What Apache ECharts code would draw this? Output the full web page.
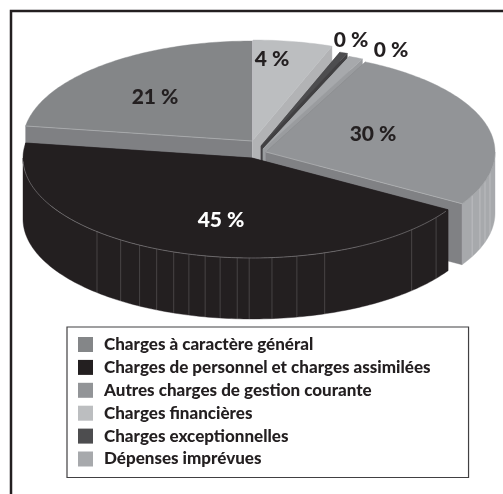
<!DOCTYPE html>
<html>
<head>
<meta charset="utf-8">
<style>
	html, body { margin: 0; padding: 0; background: #fff; }
	#chart { width: 503px; height: 494px; }
</style>
<script src="https://cdn.jsdelivr.net/npm/echarts@6/dist/echarts.min.js"></script>
</head>
<body>
<div id="chart"></div>
<script>
	// legend order
	const chargeNames = [
		'Charges à caractère général',
		'Charges de personnel et charges assimilées',
		'Autres charges de gestion courante',
		'Charges financières',
		'Charges exceptionnelles',
		'Dépenses imprévues'
	]
	// what the chart prints on the slices
	const percentLabels = ['21 %', '45 %', '30 %', '4 %', '0 %', '0 %']
	// share of the circle each slice really takes in the picture (read off its angles),
	// the perspective of the original makes these differ a bit from the printed numbers
	const sliceShares = [22.6, 43.75, 26.5, 5.6, 0.55, 1]
	const topColors = ['#848688', '#231f20', '#929497', '#bcbec0', '#4d4d4f', '#a7a9ac']
	const cutColors = ['#7f8083', '#231f20', '#808184', '#b2b3b5', '#414042', '#9a9c9f']
	const rimColors = ['#7f8083', '#231f20', '#a7a9ac', '#b2b3b5', '#414042', '#9a9c9f']
	const labelColors = ['#231f20', '#ffffff', '#231f20', '#231f20', '#231f20', '#231f20']

	// clockwise from 12 o'clock, the way the slices follow each other
	const clockOrder = [3, 4, 5, 2, 1, 0]
	// back to front
	const paintOrder = [0, 3, 4, 5, 2, 1]

	const radiusX = 229
	const radiusY = 100
	const depth = 61
	// where each slice's tip landed after the pie was pulled apart
	const tips = [[252, 141], [252, 158], [266, 152], [253, 140], [261, 146], [263, 149]]
	const labelSpots = [[155, 97], [221, 220], [373, 134], [272, 59], [351, 40], [391, 50]]
	// thin seams on the outer wall, degrees clockwise from 12 o'clock
	const seams = {
		1: [126.5, 135.8, 161.5, 168.7, 175, 180.7, 183.7, 188, 191.8, 196, 200, 204.6, 209.4, 215, 222.6],
		2: [102, 107, 110.9, 115.8]
	}
	const seamColors = { 1: 'rgba(255,255,255,0.28)', 2: '#c9cacc' }

	const spans = {}
	let angle = 0
	clockOrder.forEach(function(i) {
		spans[i] = [angle, angle + sliceShares[i] * 3.6]
		angle = spans[i][1]
	})

	function onEllipse(tip, deg, drop) {
		const r = deg * Math.PI / 180
		return [tip[0] + radiusX * Math.sin(r), tip[1] - radiusY * Math.cos(r) + (drop || 0)]
	}

	function arc(tip, from, to, drop) {
		const pts = []
		const n = Math.max(2, Math.ceil(to - from))
		for (let k = 0; k <= n; k++) {
			pts.push(onEllipse(tip, from + (to - from) * k / n, drop))
		}
		return pts
	}

	function poly(points, fill) {
		return { type: 'polygon', shape: { points: points }, style: { fill: fill, stroke: fill, lineWidth: 0.4 } }
	}

	function line(a, b, color, width) {
		return {
			type: 'line',
			shape: { x1: a[0], y1: a[1], x2: b[0], y2: b[1] },
			style: { stroke: color, lineWidth: width || 0.6 }
		}
	}

	function renderSlice(i) {
		return function() {
			const tip = tips[i]
			const from = spans[i][0]
			const to = spans[i][1]
			const tipLow = [tip[0], tip[1] + depth]
			const kids = []

			// cut faces
			;[from, to].forEach(function(a) {
				const o = onEllipse(tip, a)
				kids.push(poly([tip, o, [o[0], o[1] + depth], tipLow], cutColors[i]))
			})
			// outer wall, only the front half can be seen
			const a0 = Math.max(from, 90)
			const a1 = Math.min(to, 270)
			if (a1 > a0) {
				kids.push(poly(arc(tip, a0, a1).concat(arc(tip, a0, a1, depth).reverse()), rimColors[i]))
				;(seams[i] || []).forEach(function(a) {
					kids.push(line(onEllipse(tip, a), onEllipse(tip, a, depth), seamColors[i]))
				})
			}
			// top face
			kids.push(poly([tip].concat(arc(tip, from, to)), topColors[i]))

			// light hairlines along the lit edges
			if (i === 0) kids.push(line(tip, onEllipse(tip, from), '#b9babc'))
			if (i === 2) kids.push(line(tip, onEllipse(tip, to), '#b9babc'))
			if (i === 1) {
				kids.push({
					type: 'polyline',
					shape: { points: arc(tip, from + 1, 268) },
					style: { fill: 'none', stroke: '#8d8c8d', lineWidth: 0.6 }
				})
			}

			kids.push({
				type: 'text',
				x: labelSpots[i][0],
				y: labelSpots[i][1],
				style: {
					text: percentLabels[i],
					fill: labelColors[i],
					font: '900 21px Lato',
					align: 'center',
					verticalAlign: 'middle'
				}
			})
			return { type: 'group', children: kids }
		}
	}

	const chart = echarts.init(document.getElementById('chart'))
	chart.setOption({
		animation: false,
		graphic: [{
			type: 'polyline',
			silent: true,
			shape: { points: [[503, 11], [11, 11], [11, 494]] },
			style: { fill: 'none', stroke: '#231f20', lineWidth: 2.5 }
		}],
		legend: {
			orient: 'vertical',
			left: 67,
			top: 327,
			padding: [9, 38, 10, 11],
			itemWidth: 15,
			itemHeight: 15,
			itemGap: 5.9,
			borderColor: '#414042',
			borderWidth: 1.2,
			icon: 'rect',
			selectedMode: false,
			textStyle: {
				fontFamily: 'Lato',
				fontWeight: 900,
				fontSize: 17,
				lineHeight: 15,
				color: '#231f20',
				padding: [0, 0, 0, 6]
			},
			data: chargeNames.map(function(name, i) {
				return { name: name, itemStyle: { color: topColors[i] } }
			})
		},
		series: paintOrder.map(function(i) {
			return {
				type: 'custom',
				name: chargeNames[i],
				coordinateSystem: 'none',
				silent: true,
				itemStyle: { color: topColors[i] },
				data: [sliceShares[i]],
				renderItem: renderSlice(i)
			}
		})
	})
</script>
</body>
</html>
